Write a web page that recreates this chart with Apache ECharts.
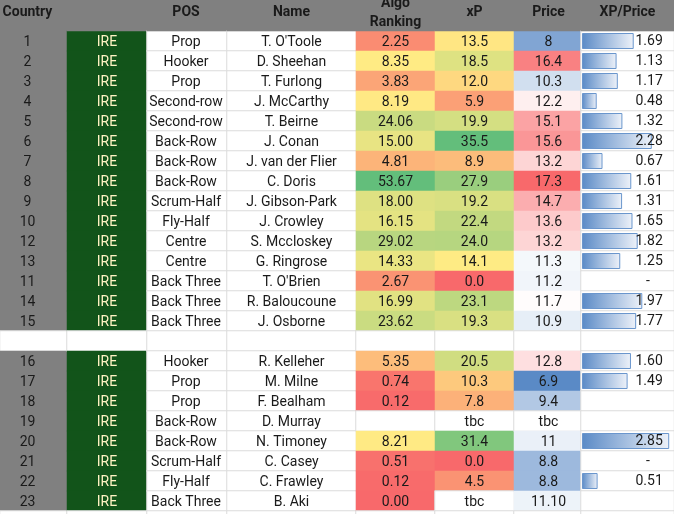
<!DOCTYPE html>
<html lang="en">
<head>
    <meta charset="UTF-8">
    <title>Ireland squad table</title>
    <script src="https://cdn.jsdelivr.net/npm/echarts@6/dist/echarts.min.js"></script>
    <style>
        html, body { margin: 0; padding: 0; background: #fff; }
        #myChart { width: 674px; height: 514px; }
    </style>
</head>
<body>
    <div id="myChart"></div>

    <script>
        // table values, '' is an empty row or cell
        const shirtNo = ['1','2','3','4','5','6','7','8','9','10','12','13','11','14','15','',
            '16','17','18','19','20','21','22','23',''];
        const country = ['IRE','IRE','IRE','IRE','IRE','IRE','IRE','IRE','IRE','IRE','IRE','IRE','IRE','IRE','IRE','',
            'IRE','IRE','IRE','IRE','IRE','IRE','IRE','IRE',''];
        const positions = ['Prop','Hooker','Prop','Second-row','Second-row','Back-Row','Back-Row','Back-Row',
            'Scrum-Half','Fly-Half','Centre','Centre','Back Three','Back Three','Back Three','',
            'Hooker','Prop','Prop','Back-Row','Back-Row','Scrum-Half','Fly-Half','Back Three',''];
        const names = ["T. O'Toole",'D. Sheehan','T. Furlong','J. McCarthy','T. Beirne','J. Conan','J. van der Flier','C. Doris',
            'J. Gibson-Park','J. Crowley','S. Mccloskey','G. Ringrose',"T. O'Brien",'R. Baloucoune','J. Osborne','',
            'R. Kelleher','M. Milne','F. Bealham','D. Murray','N. Timoney','C. Casey','C. Frawley','B. Aki',''];
        const algoRanking = ['2.25','8.35','3.83','8.19','24.06','15.00','4.81','53.67','18.00','16.15','29.02','14.33','2.67','16.99','23.62','',
            '5.35','0.74','0.12','','8.21','0.51','0.12','0.00',''];
        const xP = ['13.5','18.5','12.0','5.9','19.9','35.5','8.9','27.9','19.2','22.4','24.0','14.1','0.0','23.1','19.3','',
            '20.5','10.3','7.8','tbc','31.4','0.0','4.5','tbc',''];
        const price = ['8','16.4','10.3','12.2','15.1','15.6','13.2','17.3','14.7','13.6','13.2','11.3','11.2','11.7','10.9','',
            '12.8','6.9','9.4','tbc','11','8.8','8.8','11.10',''];
        const xpPerPrice = ['1.69','1.13','1.17','0.48','1.32','2.28','0.67','1.61','1.31','1.65','1.82','1.25','-','1.97','1.77','',
            '1.60','1.49','','','2.85','-','0.51','',''];
        const headers = ['Country','','POS','Name','Algo\nRanking','xP','Price','XP/Price'];

        const FONT = 'Roboto';
        const FONT_SIZE = 14;
        const TEXT = '#1a1a1a';
        const GRAY = '#808080';
        const GREEN = '#12541a';
        const LINE = '#dcdcdc';
        const edges = [0, 67, 147, 227, 356, 435, 514, 581, 674];
        const rowIds = shirtNo.map(function (d, i) { return 'r' + i; });

        // Excel style three colour scale
        function hex(c) {
            return [parseInt(c.slice(1, 3), 16), parseInt(c.slice(3, 5), 16), parseInt(c.slice(5, 7), 16)];
        }
        function scale3(v, lo, mid, hi, cLo, cMid, cHi) {
            var a = hex(v < mid ? cLo : cMid), b = hex(v < mid ? cMid : cHi);
            var t = v < mid ? (v - lo) / (mid - lo) : (v - mid) / (hi - mid);
            return 'rgb(' + a.map(function (x, i) { return Math.round(x + (b[i] - x) * t); }).join(',') + ')';
        }
        function algoColor(v) { return scale3(v, 0, 8.3, 53.67, '#f8696b', '#ffeb84', '#63be7b'); }
        function xpColor(v) { return scale3(v, 0, 14, 35.5, '#f8696b', '#ffeb84', '#63be7b'); }
        function priceColor(v) { return scale3(v, 6.9, 11.6, 17.3, '#5a8ac6', '#ffffff', '#f8696b'); }

        // plain white cell with gridlines
        var whiteCell = { color: '#fff', borderColor: LINE, borderWidth: 1 };

        function colourCells(texts, colorFn) {
            return texts.map(function (t, i) {
                var v = parseFloat(t);
                var style = isNaN(v) ? whiteCell : { color: colorFn(v), borderWidth: 0 };
                return { value: [0, i, 1], itemStyle: style };
            });
        }
        function fixedCells(texts, color) {
            return texts.map(function (t, i) {
                return { value: [0, i, 1], itemStyle: t === '' ? whiteCell : { color: color, borderWidth: 0 } };
            });
        }
        function plainCells(texts) {
            return texts.map(function (t, i) {
                return { value: [0, i, 1], itemStyle: whiteCell };
            });
        }

        var columns = [
            { texts: shirtNo, data: fixedCells(shirtNo, GRAY), dx: -6 },
            { texts: country, data: fixedCells(country, GREEN), dx: 0, color: '#fff3c4' },
            { texts: positions, data: plainCells(positions), dx: -1 },
            { texts: names, data: plainCells(names), dx: 0 },
            { texts: algoRanking, data: colourCells(algoRanking, algoColor), dx: 0 },
            { texts: xP, data: colourCells(xP, xpColor), dx: 0 },
            { texts: price, data: colourCells(price, priceColor), dx: 1 },
            { texts: xpPerPrice, data: plainCells(xpPerPrice), dx: 0, noLabel: true }
        ];

        var grid = [], xAxis = [], yAxis = [], series = [];

        // the last blank row runs past the bottom of the window, so the grid must not be fitted inside it
        function addCellGrid(left, width, top, height, cats) {
            grid.push({ left: left, width: width, top: top, height: height, outerBoundsMode: 'none' });
            xAxis.push({ type: 'category', data: ['c'], show: false, gridIndex: grid.length - 1 });
            yAxis.push({ type: 'category', data: cats, inverse: true, show: false, gridIndex: grid.length - 1 });
            return grid.length - 1;
        }
        function cellLabel(texts, color, dx) {
            return {
                show: true,
                fontFamily: FONT,
                fontSize: FONT_SIZE,
                color: color || TEXT,
                offset: [dx, 1],
                formatter: function (p) { return texts[p.dataIndex]; }
            };
        }

        // body cells and the header band of each column
        columns.forEach(function (col, c) {
            var left = edges[c], width = edges[c + 1] - edges[c];
            var g = addCellGrid(left, width, 31, 500, rowIds);
            series.push({
                type: 'heatmap', xAxisIndex: g, yAxisIndex: g, z: 1,
                data: col.data,
                label: col.noLabel ? { show: false } : cellLabel(col.texts, col.color, col.dx),
                emphasis: { disabled: true }
            });
            var h = addCellGrid(left, width, 0, 31, ['header']);
            series.push({
                type: 'heatmap', xAxisIndex: h, yAxisIndex: h, z: 1,
                data: [{ value: [0, 0, 1], itemStyle: { color: GRAY, borderWidth: 0 } }],
                label: {
                    show: true, fontFamily: FONT, fontSize: FONT_SIZE, fontWeight: 'bold', color: TEXT,
                    lineHeight: 19, offset: [col.dx, -3],
                    formatter: headers[c]
                },
                emphasis: { disabled: true }
            });
        });

        // XP/Price data bars
        grid.push({ left: 582, width: 91.8, top: 31, height: 500, outerBoundsMode: 'none' });
        xAxis.push({ type: 'value', min: 0, max: 3, show: false, gridIndex: grid.length - 1 });
        yAxis.push({ type: 'category', data: rowIds, inverse: true, show: false, gridIndex: grid.length - 1 });
        series.push({
            type: 'bar', xAxisIndex: grid.length - 1, yAxisIndex: grid.length - 1, z: 2,
            barWidth: 16,
            data: xpPerPrice.map(function (t) { return isNaN(parseFloat(t)) ? null : parseFloat(t); }),
            itemStyle: {
                borderColor: '#6a96cd',
                borderWidth: 1,
                color: new echarts.graphic.LinearGradient(0, 0, 1, 0, [
                    { offset: 0, color: '#5a8ac6' },
                    { offset: 1, color: '#eef2f9' }
                ])
            },
            silent: true
        });

        // XP/Price numbers stay on top of the bars, right aligned
        var lg = addCellGrid(edges[7], edges[8] - edges[7], 31, 500, rowIds);
        series.push({
            type: 'heatmap', xAxisIndex: lg, yAxisIndex: lg, z: 3,
            data: xpPerPrice.map(function (t, i) {
                return {
                    value: [0, i, 1],
                    itemStyle: { color: 'rgba(0,0,0,0)', borderWidth: 0 },
                    label: { position: [t === '-' ? 69 : 82, 11] }
                };
            }),
            label: {
                show: true, fontFamily: FONT, fontSize: FONT_SIZE, color: TEXT,
                align: 'right', verticalAlign: 'middle',
                formatter: function (p) { return xpPerPrice[p.dataIndex]; }
            },
            emphasis: { disabled: true }
        });

        var myChart = echarts.init(document.getElementById('myChart'));
        myChart.setOption({
            animation: false,
            backgroundColor: '#fff',
            grid: grid,
            xAxis: xAxis,
            yAxis: yAxis,
            series: series
        });
    </script>
</body>
</html>
